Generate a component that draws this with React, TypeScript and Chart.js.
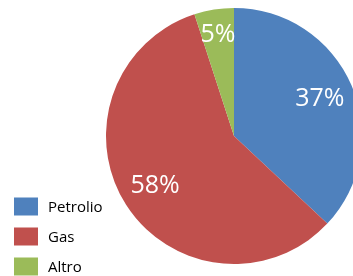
import React, { useEffect, useRef } from "react";
import { Chart, registerables } from "chart.js";

Chart.register(...registerables);

const categories = ["Petrolio", "Gas", "Altro"];
const values = [37, 58, 5];
const colors = ["#4F81BD", "#C0504D", "#9BBB59"];
const labelRadiusFactors = [0.73, 0.73, 0.8];

const labelsPlugin = {
  id: "sliceLabels",
  afterDatasetsDraw(chart: any) {
    const ctx = chart.ctx;
    const meta = chart.getDatasetMeta(0);
    const total = values.reduce((a, b) => a + b, 0);
    ctx.save();
    ctx.fillStyle = "#ffffff";
    ctx.font = "25px 'Open Sans'";
    ctx.textAlign = "center";
    ctx.textBaseline = "middle";
    meta.data.forEach((arc: any, i: number) => {
      const mid = (arc.startAngle + arc.endAngle) / 2;
      const r = arc.outerRadius * labelRadiusFactors[i];
      const x = arc.x + Math.cos(mid) * r;
      const y = arc.y + Math.sin(mid) * r;
      const pct = Math.round((values[i] / total) * 100);
      ctx.fillText(pct + "%", x, y);
    });
    ctx.restore();
  },
};

const legendPlugin = {
  id: "customLegend",
  afterDraw(chart: any) {
    const ctx = chart.ctx;
    ctx.save();
    ctx.font = "15px 'Open Sans'";
    ctx.textBaseline = "middle";
    ctx.textAlign = "left";
    const left = 14;
    const firstY = 206.5;
    const step = 30;
    chart.data.labels.forEach((lab: string, i: number) => {
      const cy = firstY + i * step;
      ctx.fillStyle = chart.data.datasets[0].backgroundColor[i];
      ctx.fillRect(left, cy - 9, 24, 18);
      ctx.fillStyle = "#000000";
      ctx.fillText(lab, 48, cy + 1);
    });
    ctx.restore();
  },
};

export default function App() {
  const ref = useRef<HTMLCanvasElement>(null);
  useEffect(() => {
    if (!ref.current) return;
    const chart = new Chart(ref.current, {
      type: "pie",
      data: {
        labels: categories,
        datasets: [
          {
            data: values,
            backgroundColor: colors,
            borderWidth: 0,
          },
        ],
      },
      options: {
        responsive: false,
        animation: false,
        layout: { padding: { left: 106, top: 8, right: 0, bottom: 12 } },
        plugins: {
          legend: { display: false },
          tooltip: { enabled: false },
        },
      },
      plugins: [labelsPlugin, legendPlugin],
    });
    return () => chart.destroy();
  }, []);
  return (
    <div
      style={{
        position: "absolute",
        left: 0,
        top: 0,
        width: 353,
        height: 276,
        overflow: "hidden",
        background: "#ffffff",
      }}
    >
      <canvas ref={ref} width={362} height={276} style={{ display: "block" }} />
    </div>
  );
}
